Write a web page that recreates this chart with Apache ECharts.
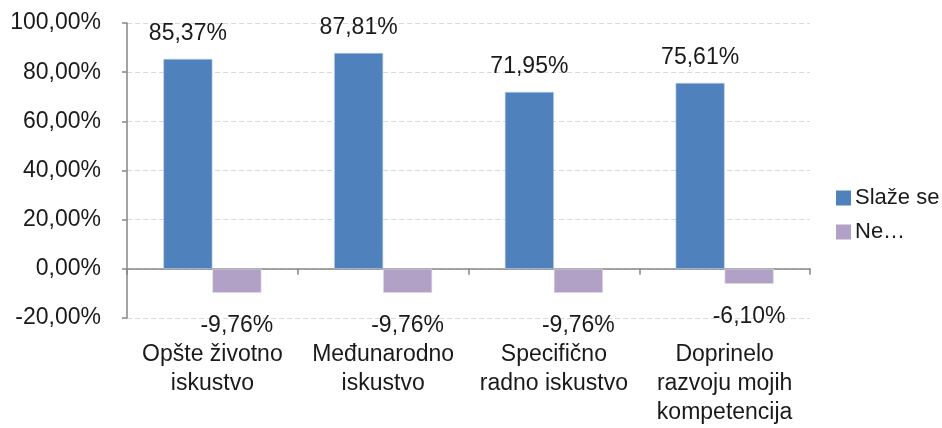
<!DOCTYPE html>
<html>
<head>
<meta charset="utf-8">
<script src="https://cdn.jsdelivr.net/npm/echarts@6/dist/echarts.min.js"></script>
<style>
  html, body { margin: 0; padding: 0; background: #fff; }
  #chart { width: 942px; height: 428px; }
</style>
</head>
<body>
<div id="chart"></div>
<script>
// data
var categories = ['Opšte životno\niskustvo', 'Međunarodno\niskustvo', 'Specifično\nradno iskustvo', 'Doprinelo\nrazvoju mojih\nkompetencija'];
var agreeName = 'Slaže se';
var agreeValues = [85.37, 87.81, 71.95, 75.61];
var disagreeName = 'Ne…';
var disagreeValues = [-9.76, -9.76, -9.76, -6.10];
var yTicks = { min: -20, max: 100, step: 20 };

var FONT = 'Liberation Sans';
var FS = 23;
var pct = function (v) { return Number(v).toFixed(2).replace('.', ',') + '%'; };

var chart = echarts.init(document.getElementById('chart'));
chart.setOption({
    animation: false,
    textStyle: { fontFamily: FONT },
    grid: { left: 127, right: 132, top: 23, bottom: 110 },
    legend: {
        orient: 'vertical',
        left: 836,
        top: 187,
        padding: 0,
        itemWidth: 15,
        itemHeight: 15,
        itemGap: 12,
        icon: 'rect',
        itemStyle: { borderWidth: 0 },
        textStyle: { fontSize: 22, color: '#1a1a1a', fontFamily: FONT, padding: [0, 0, 0, -1] },
        data: [agreeName, disagreeName]
    },
    xAxis: [
        {
            // axis line and ticks at zero
            type: 'category',
            data: categories,
            axisLine: { onZero: true, lineStyle: { color: '#868686', width: 1.5 } },
            axisTick: { show: true, length: 6, lineStyle: { color: '#868686', width: 1.5 } },
            axisLabel: { show: false },
            splitLine: { show: false }
        },
        {
            // labels at the bottom of the plot
            type: 'category',
            position: 'bottom',
            data: categories,
            axisLine: { show: false, onZero: false },
            axisTick: { show: false },
            axisLabel: { margin: 22, fontSize: FS, lineHeight: 29, color: '#1a1a1a', fontFamily: FONT, interval: 0 }
        }
    ],
    yAxis: {
        type: 'value',
        min: yTicks.min,
        max: yTicks.max,
        interval: yTicks.step,
        axisLine: { show: true, lineStyle: { color: '#868686', width: 1.5 } },
        axisTick: { show: true, length: 5, lineStyle: { color: '#868686', width: 1.5 } },
        axisLabel: { formatter: pct, fontSize: FS, color: '#1a1a1a', margin: 26, fontFamily: FONT },
        splitLine: { lineStyle: { color: '#d9d9d9', type: [5, 3], width: 1.2 } }
    },
    series: [
        {
            name: agreeName,
            type: 'bar',
            xAxisIndex: 0,
            data: agreeValues,
            barWidth: 49,
            barGap: '0%',
            itemStyle: { color: '#4f81bd', borderColor: '#b9cde5', borderWidth: 0.6 },
            label: { show: true, position: 'top', distance: 14, formatter: function (p) { return pct(p.value); }, fontSize: FS, color: '#1a1a1a', fontFamily: FONT }
        },
        {
            name: disagreeName,
            type: 'bar',
            xAxisIndex: 0,
            data: disagreeValues,
            barWidth: 49,
            itemStyle: { color: '#b2a1c7', borderColor: '#e0d9ea', borderWidth: 0.6 },
            label: { show: true, position: 'bottom', distance: 21, formatter: function (p) { return pct(p.value); }, fontSize: FS, color: '#1a1a1a', fontFamily: FONT }
        }
    ]
});
</script>
</body>
</html>
